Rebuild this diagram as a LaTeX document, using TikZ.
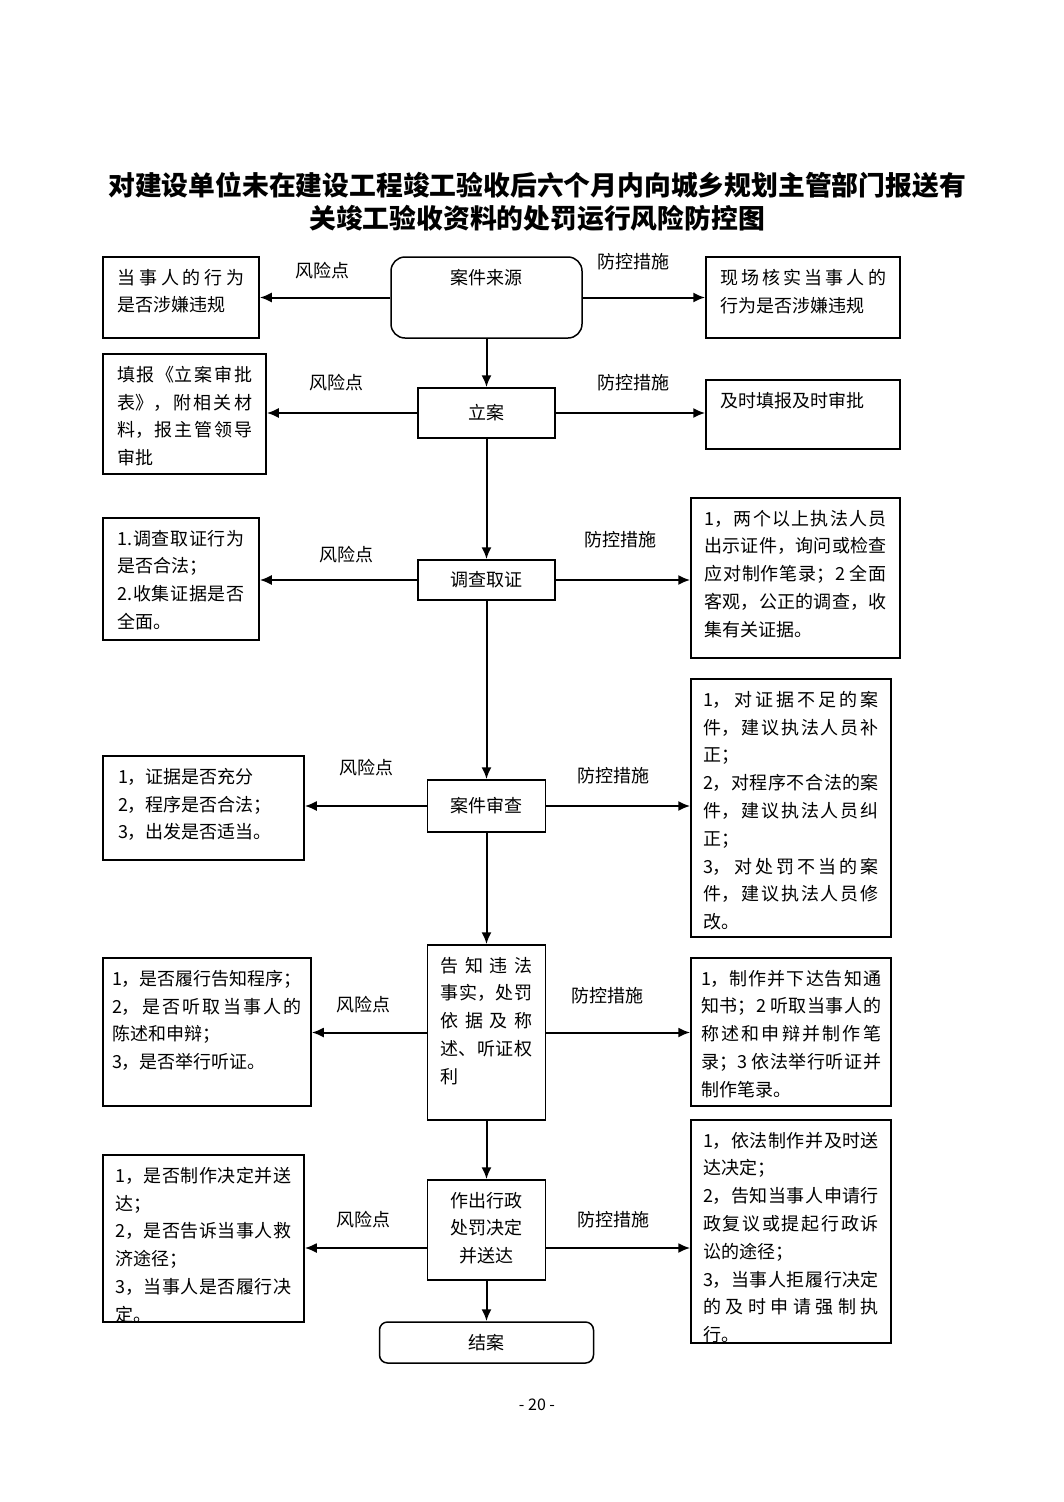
\documentclass[tikz,border=0pt]{standalone}
\usepackage{fontspec}
\usepackage{tikz}
\usetikzlibrary{arrows.meta}
\newfontfamily\cjk{Noto Sans CJK SC}
\XeTeXlinebreaklocale "zh"
\XeTeXlinebreakskip=0pt plus 4pt
% text block of width #1 at the top of a box of height #2
\newcommand{\boxtxt}[3]{\parbox[c][\dimexpr#2pt-24pt\relax][t]{#1pt}{#3}}

\begin{document}
\begin{tikzpicture}[x=1pt,y=-1pt,font=\cjk\fontsize{18}{27.8}\selectfont]
		
		\tikzset{
			box/.style={
				draw,
				line width=1.5pt,
				inner sep=0pt
			},
			sz/.style 2 args={minimum width=#1pt,minimum height=#2pt},
			arr/.style={-{Latex[length=12pt,width=10pt]},line width=2pt}
		}
		
		\useasboundingbox (0,0) rectangle (1063,1502);
		
		\node[font=\cjk\bfseries\fontsize{26.8}{33}\selectfont,align=center] (title) at (537,201.5)
		{对建设单位未在建设工程竣工验收后六个月内向城乡规划主管部门报送有\\关竣工验收资料的处罚运行风险防控图};
		
		% main line
		\node[box,sz={191}{81},rounded corners=14pt] (C1) at (486.5,297.5) {\boxtxt{160}{81}{\centering 案件来源}};
		\node[box,sz={137}{50}] (C2) at (486.5,413) {立案};
		\node[box,sz={137}{40}] (C3) at (486.5,580) {调查取证};
		\node[box,sz={118}{52}] (C4) at (486.5,806) {案件审查};
		\node[box,sz={118}{175}] (C5) at (486.5,1032.5)
		{\boxtxt{92}{175}{告知违法\linebreak 事实，处罚\linebreak 依据及称\linebreak 述、听证权\linebreak 利}};
		\node[box,sz={118}{100}] (C6) at (486.5,1230) {\boxtxt{100}{100}{\centering 作出行政\\处罚决定\\并送达}};
		\node[box,sz={214}{41},rounded corners=8pt] (C7) at (486.5,1342.5) {结案};
		
		% risks
		\node[box,sz={156}{81}] (L1) at (181,297.5)
		{\boxtxt{127}{81}{当事人的行为\linebreak 是否涉嫌违规}};
		\node[box,sz={163}{120}] (L2) at (184.5,414)
		{\boxtxt{135}{120}{填报《立案审批\linebreak 表》，附相关材\linebreak 料，报主管领导\linebreak 审批}};
		\node[box,sz={156}{122}] (L3) at (181,579)
		{\boxtxt{127}{122}{1.调查取证行为\linebreak 是否合法；\\2.收集证据是否\linebreak 全面。}};
		\node[box,sz={201}{104}] (L4) at (203.5,808)
		{\boxtxt{171}{104}{1，证据是否充分\\2，程序是否合法；\\3，出发是否适当。}};
		\node[box,sz={208}{148}] (L5) at (207,1032)
		{\boxtxt{190}{148}{1，是否履行告知程序；\\2，是否听取当事人的\linebreak 陈述和申辩；\\3，是否举行听证。}};
		\node[box,sz={201}{167}] (L6) at (203.5,1238.5)
		{\boxtxt{176}{167}{1，是否制作决定并送\linebreak 达；\\2，是否告诉当事人救\linebreak 济途径；\\3，当事人是否履行决\linebreak 定。}};
		
		% measures
		\node[box,sz={194}{81}] (R1) at (803,297.5)
		{\boxtxt{166}{81}{现场核实当事人的\linebreak 行为是否涉嫌违规}};
		\node[box,sz={194}{69}] (R2) at (803,414.5)
		{\boxtxt{166}{69}{及时填报及时审批}};
		\node[box,sz={209}{160}] (R3) at (795.5,578)
		{\boxtxt{182}{160}{1，两个以上执法人员\linebreak 出示证件，询问或检查\linebreak 应对制作笔录；2 全面\linebreak 客观，公正的调查，收\linebreak 集有关证据。}};
		\node[box,sz={200}{258}] (R4) at (791,808)
		{\boxtxt{176}{258}{1，对证据不足的案\linebreak 件，建议执法人员补\linebreak 正；\\2，对程序不合法的案\linebreak 件，建议执法人员纠\linebreak 正；\\3，对处罚不当的案\linebreak 件，建议执法人员修\linebreak 改。}};
		\node[box,sz={200}{148}] (R5) at (791,1032)
		{\boxtxt{180}{148}{1，制作并下达告知通\linebreak 知书；2 听取当事人的\linebreak 称述和申辩并制作笔\linebreak 录；3 依法举行听证并\linebreak 制作笔录。}};
		\node[box,sz={200}{223}] (R6) at (791,1231.5)
		{\boxtxt{176}{223}{1，依法制作并及时送\linebreak 达决定；\\2，告知当事人申请行\linebreak 政复议或提起行政诉\linebreak 讼的途径；\\3，当事人拒履行决定\linebreak 的及时申请强制执\linebreak 行。}};
		
		\foreach \a/\b in {C1/C2,C2/C3,C3/C4,C4/C5,C5/C6,C6/C7}
		\draw[arr] (\a) -- (\b);
		
		\foreach \i in {1,...,5}{
			\draw[arr] (C\i.west) -- (C\i.west -| L\i.east);
			\draw[arr] (C\i.east) -- (C\i.east -| R\i.west);
		}
		\draw[arr] ([yshift=-18pt]C6.west) -- ([yshift=-18pt]C6.west -| L6.east);
		\draw[arr] ([yshift=-18pt]C6.east) -- ([yshift=-18pt]C6.east -| R6.west);
		
		\foreach \n/\x/\y in {1/322/271,2/336/383,3/346/555,4/366/768,5/363/1005,6/363/1220}
		\node (rk\n) at (\x,\y) {风险点};
		\foreach \n/\x/\y in {1/633/262,2/633/383,3/620/540,4/613/776,5/607/996,6/613/1220}
		\node (pc\n) at (\x,\y) {防控措施};
		
		\node[font=\cjk\fontsize{16}{18}\selectfont] (pg) at (537,1405) {- 20 -};
		
	\end{tikzpicture}
\end{document}
